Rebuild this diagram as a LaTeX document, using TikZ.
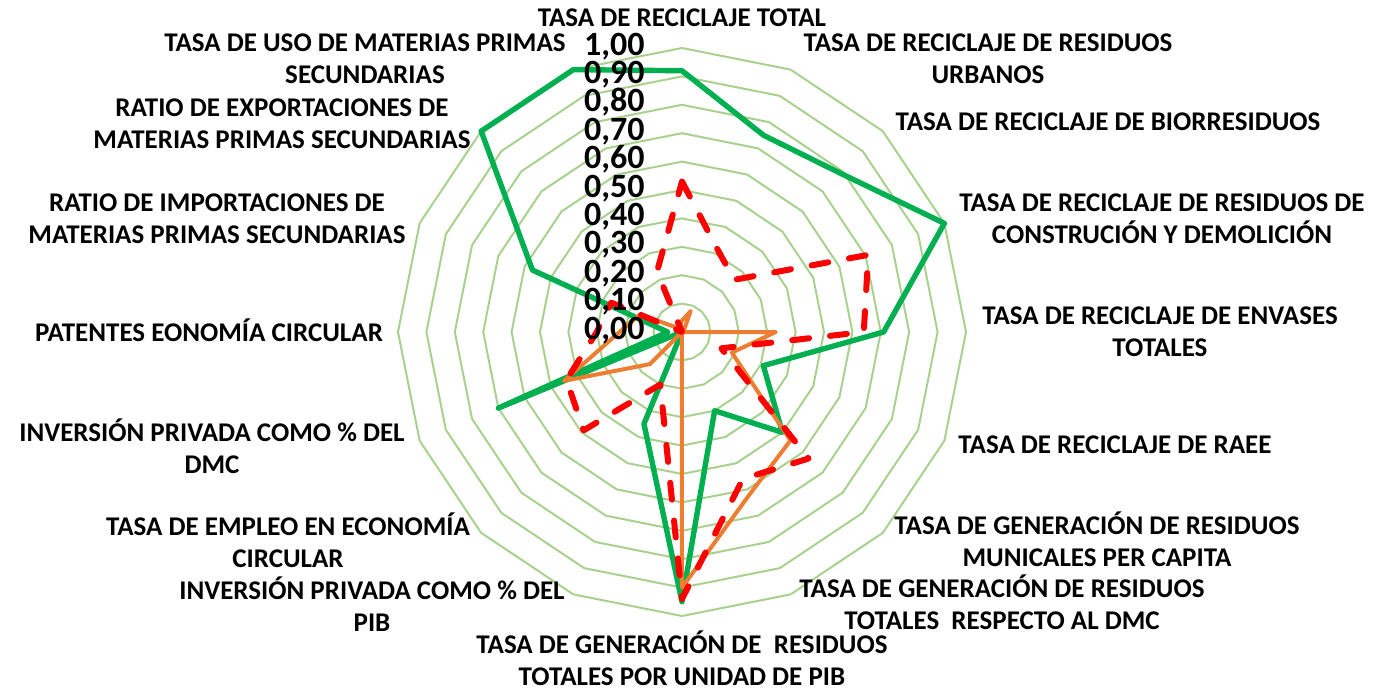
\documentclass[tikz,border=0pt]{standalone}
\usepackage{fontspec}
\setmainfont{Carlito}
\usepackage{tikz}
\usetikzlibrary{positioning}
\definecolor{ringgreen}{HTML}{A9D18E}
\definecolor{seriesgreen}{HTML}{00B050}
\definecolor{seriesorange}{HTML}{ED7D31}

\begin{document}
\begin{tikzpicture}[x=0.5pt, y=0.5pt,
ringline/.style={draw=ringgreen, line width=1pt, line join=round},
greenline/.style={draw=seriesgreen, line width=2.7pt, line join=round},
redline/.style={draw=red, line width=3pt, line cap=round, line join=round, dash pattern=on 8.5pt off 10.5pt},
orangeline/.style={draw=seriesorange, line width=2pt, line join=round},
axislabel/.style={align=center, inner sep=0pt, font=\fontsize{13.5}{16}\selectfont\bfseries},
ticklabel/.style={anchor=east, inner sep=0pt, text height=6.5pt, text depth=0.5pt, font=\fontsize{17}{17}\selectfont\bfseries}
]
\useasboundingbox (-682,-360) rectangle (691,332);

%Rings
\foreach \r in {1,...,10}
  \draw[ringline] (90:{\r*28.4}) \foreach \k in {1,...,15}{ -- ({90-22.5*\k}:{\r*28.4})} -- cycle;

%Series points
\foreach \v [count=\i from 0] in {0.92,0.75,0.79,1.0,0.71,0.31,0.50,0.30,0.95,0.35,0.0,0.70,0.05,0.57,1.0,1.0}
  \coordinate (g\i) at ({90-22.5*\i}:{\v*284});
\foreach \v [count=\i from 0] in {0.04,0.08,0.01,0.0,0.33,0.19,0.54,0.62,0.90,0.0,0.16,0.45,0.22,0.16,0.02,0.02}
  \coordinate (o\i) at ({90-22.5*\i}:{\v*284});
\foreach \v [count=\i from 0] in {0.53,0.32,0.26,0.71,0.64,0.15,0.63,0.56,0.94,0.20,0.49,0.44,0.30,0.27,0.0,0.23}
  \coordinate (r\i) at ({90-22.5*\i}:{\v*284});

%Series
\draw[greenline] (g0) \foreach \i in {1,...,15}{ -- (g\i)} -- cycle;
\draw[orangeline] (o0) \foreach \i in {1,...,15}{ -- (o\i)} -- cycle;
\draw[redline] (r0) \foreach \i in {1,...,15}{ -- (r\i)} -- cycle;

%Scale
\foreach \t [count=\k from 0] in {{0,00},{0,10},{0,20},{0,30},{0,40},{0,50},{0,60},{0,70},{0,80},{0,90},{1,00}}
  \node[ticklabel] (val\k) at (-37,{\k*28.4-1}) {\t};

%Axis labels
\node[axislabel] (lab0) at (0,314) {TASA DE RECICLAJE TOTAL};
\node[axislabel] (lab1) at (306,273.5) {TASA DE RECICLAJE DE RESIDUOS\\URBANOS};
\node[axislabel] (lab2) at (426,210) {TASA DE RECICLAJE DE BIORRESIDUOS};
\node[axislabel] (lab3) at (480,113.5) {TASA DE RECICLAJE DE RESIDUOS DE\\CONSTRUCIÓN Y DEMOLICIÓN};
\node[axislabel] (lab4) at (478,0.5) {TASA DE RECICLAJE DE ENVASES\\TOTALES};
\node[axislabel] (lab5) at (433,-113) {TASA DE RECICLAJE DE RAEE};
\node[axislabel] (lab6) at (415,-207.5) {TASA DE GENERACIÓN DE RESIDUOS\\MUNICALES PER CAPITA};
\node[axislabel] (lab7) at (320,-270.5) {TASA DE GENERACIÓN DE RESIDUOS\\TOTALES~ RESPECTO AL DMC};
\node[axislabel] (lab8) at (0,-326) {TASA DE GENERACIÓN DE~ RESIDUOS\\TOTALES POR UNIDAD DE PIB};
\node[axislabel] (lab9) at (-310,-272) {INVERSIÓN PRIVADA COMO \% DEL\\PIB};
\node[axislabel] (lab10) at (-394,-208.5) {TASA DE EMPLEO EN ECONOMÍA\\CIRCULAR};
\node[axislabel] (lab11) at (-470,-114) {INVERSIÓN PRIVADA COMO \% DEL\\DMC};
\node[axislabel] (lab12) at (-473,2) {PATENTES EONOMÍA CIRCULAR};
\node[axislabel] (lab13) at (-465,113.5) {RATIO DE IMPORTACIONES DE\\MATERIAS PRIMAS SECUNDARIAS};
\node[axislabel] (lab14) at (-400,208.5) {RATIO DE EXPORTACIONES DE\\MATERIAS PRIMAS SECUNDARIAS};
\node[axislabel] (lab15) at (-317,273) {TASA DE USO DE MATERIAS PRIMAS\\SECUNDARIAS};
\end{tikzpicture}
\end{document}
